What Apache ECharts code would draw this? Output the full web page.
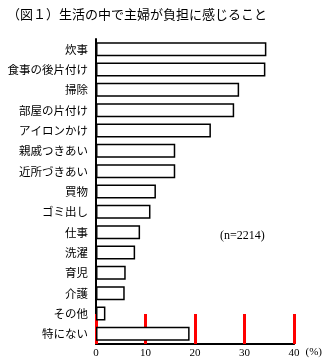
<!DOCTYPE html>
<html>
<head>
<meta charset="utf-8">
<script src="https://cdn.jsdelivr.net/npm/echarts@6/dist/echarts.min.js"></script>
<style>
  html, body { margin: 0; padding: 0; background: #fff; }
  #chart { width: 325px; height: 362px; }
</style>
</head>
<body>
<div id="chart"></div>
<script>
// 項目（上から順）
var categories = ['炊事', '食事の後片付け', '掃除', '部屋の片付け', 'アイロンかけ', '親戚つきあい', '近所づきあい',
    '買物', 'ゴミ出し', '仕事', '洗濯', '育児', '介護', 'その他', '特にない'];
// 割合(%)
var values = [34.4, 34.2, 28.9, 27.9, 23.2, 16.0, 16.0, 12.1, 11.0, 8.9, 7.9, 6.0, 5.8, 1.9, 18.9];
var xTicks = [0, 10, 20, 30, 40];

var myChart = echarts.init(document.getElementById('chart'));
var option = {
    animation: false,
    backgroundColor: '#fff',
    title: {
        text: '（図１）生活の中で主婦が負担に感じること',
        left: 2,
        top: 3,
        textStyle: {
            fontFamily: 'Noto Sans CJK JP',
            fontSize: 13,
            fontWeight: 'normal',
            color: '#000'
        }
    },
    graphic: [{
        type: 'text',
        left: 220,
        top: 230,
        style: {
            text: '(n=2214)',
            fontFamily: 'Liberation Serif',
            fontSize: 12,
            fill: '#000'
        }
    }],
    grid: {
        left: 96,
        right: 23,
        top: 39,
        bottom: 18,
        containLabel: false
    },
    xAxis: {
        type: 'value',
        min: xTicks[0],
        max: xTicks[xTicks.length - 1],
        interval: 10,
        name: '(%)',
        nameLocation: 'end',
        nameGap: 3,
        nameTextStyle: {
            fontFamily: 'Liberation Serif',
            fontSize: 11,
            color: '#000',
            verticalAlign: 'top',
            padding: [3, 0, 0, 0]
        },
        axisLine: { show: true, lineStyle: { color: '#000', width: 2 } },
        axisTick: { show: true, inside: true, length: 30, lineStyle: { color: '#f00', width: 3 } },
        axisLabel: {
            margin: 4,
            fontFamily: 'Liberation Serif',
            fontSize: 11,
            color: '#000'
        },
        splitLine: { show: false }
    },
    yAxis: {
        type: 'category',
        data: categories,
        inverse: true,
        axisLine: { show: true, lineStyle: { color: '#000', width: 2 } },
        axisTick: { show: false },
        axisLabel: {
            margin: 8,
            fontFamily: 'Noto Sans CJK JP',
            fontSize: 11.5,
            color: '#000'
        }
    },
    series: [{
        type: 'bar',
        data: values,
        barWidth: 14,
        itemStyle: {
            color: '#fff',
            borderColor: '#000',
            borderWidth: 1.5
        }
    }]
};
myChart.setOption(option);
</script>
</body>
</html>
